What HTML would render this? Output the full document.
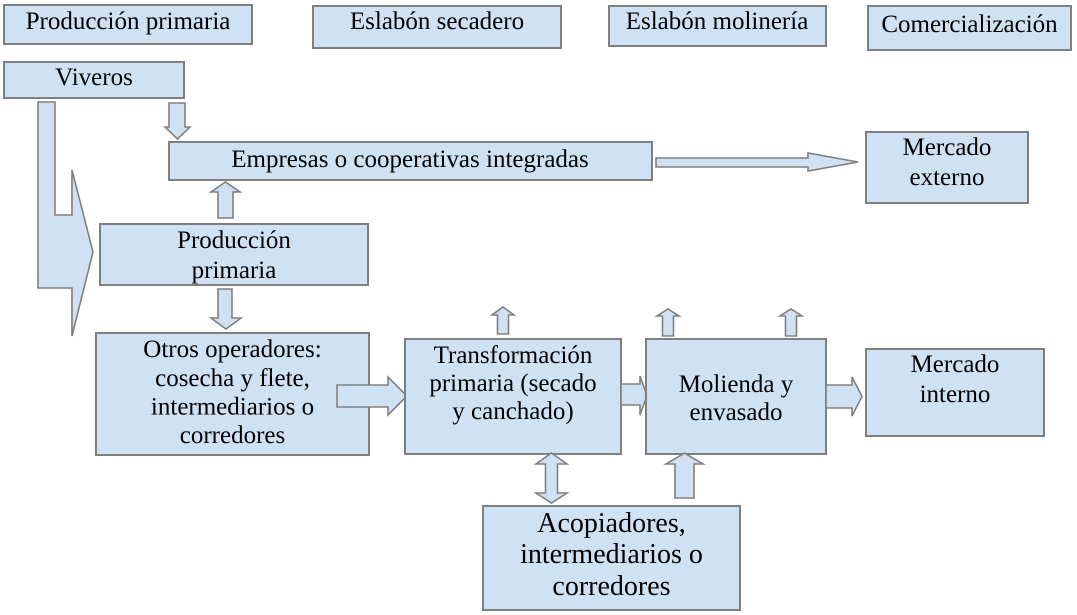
<!DOCTYPE html>
<html>
<head>
<meta charset="utf-8">
<style>
html,body{margin:0;padding:0;background:#fff;}
body{width:1077px;height:615px;overflow:hidden;font-family:"Liberation Serif","Times New Roman",Tinos,"DejaVu Serif","Noto Serif CJK SC",serif;}
svg{display:block;}
svg text{font-family:"Liberation Serif","Times New Roman",Tinos,"DejaVu Serif","Noto Serif CJK SC",serif;fill:#000;text-anchor:middle;}
.b{fill:#cfe2f3;stroke:#7f7f7f;stroke-width:2;}
.a{fill:#cfe2f3;stroke:#808080;stroke-width:1.6;stroke-linejoin:miter;}
</style>
</head>
<body>
<svg width="1077" height="615" viewBox="0 0 1077 615" xmlns="http://www.w3.org/2000/svg">
  <rect class="b" x="4" y="5" width="248" height="39"/>
  <rect class="b" x="313" y="6" width="248" height="42"/>
  <rect class="b" x="609" y="6" width="217" height="40"/>
  <rect class="b" x="868" y="6" width="203" height="44"/>
  <rect class="b" x="4" y="62" width="180" height="36"/>
  <polygon class="a" points="38,102 55,102 55,215 72,215 72,170 93,252 72,336 72,288 38,288"/>
  <polygon class="a" points="169,103 185,103 185,127 190,127 177.5,139 165,127 169,127"/>
  <rect class="b" x="169" y="142" width="483" height="38"/>
  <polygon class="a" points="656,158 808,158 808,153 858,162 808,171 808,167 656,167"/>
  <rect class="b" x="866" y="132" width="162" height="71"/>
  <polygon class="a" points="218,218 233,218 233,192 240,192 225.5,182 211,192 218,192"/>
  <rect class="b" x="100" y="224" width="268" height="61"/>
  <polygon class="a" points="218,289 232,289 232,318 241,318 226,329 211,318 218,318"/>
  <rect class="b" x="96" y="333" width="273" height="122"/>
  <polygon class="a" points="337,385 388,385 388,377 407,396 388,415 388,407 337,407"/>
  <polygon class="a" points="497.5,334 508.5,334 508.5,315 514,315 503,307 492,315 497.5,315"/>
  <polygon class="a" points="662.5,336 673.5,336 673.5,316 679,316 668,309 657,316 662.5,316"/>
  <polygon class="a" points="785.5,336 796.5,336 796.5,316 802,316 791,309 780,316 785.5,316"/>
  <rect class="b" x="405" y="339" width="216" height="115"/>
  <polygon class="a" points="621,384 640,384 640,376 647,395.5 640,415 640,405 621,405"/>
  <rect class="b" x="646" y="339" width="180" height="115"/>
  <polygon class="a" points="826,385 852,385 852,377 862,396.5 852,416 852,408 826,408"/>
  <rect class="b" x="866" y="349" width="178" height="87"/>
  <polygon class="a" points="551.5,453 567,464 557.5,464 557.5,493 567,493 551.5,503 536,493 545.5,493 545.5,464 536,464"/>
  <polygon class="a" points="675,498 694,498 694,464 703,464 684.5,453 666,464 675,464"/>
  <rect class="b" x="483" y="506" width="257" height="104"/>

  <g font-family="Liberation Serif, Times New Roman, Tinos, DejaVu Serif, serif" style="font-family:'Liberation Serif','Times New Roman',Tinos,'DejaVu Serif',serif" text-anchor="middle" fill="#000">
    <text x="128" y="29" font-size="25">Producción primaria</text>
    <text x="437" y="29" font-size="25">Eslabón secadero</text>
    <text x="717" y="29" font-size="25">Eslabón molinería</text>
    <text x="969.5" y="32" font-size="25">Comercialización</text>
    <text x="94" y="85" font-size="25">Viveros</text>
    <text x="410" y="167" font-size="25">Empresas o cooperativas integradas</text>
    <text x="947" y="155" font-size="25">Mercado</text>
    <text x="947" y="185" font-size="25">externo</text>
    <text x="234" y="248" font-size="25">Producción</text>
    <text x="234" y="278" font-size="25">primaria</text>
    <text x="232.5" y="357" font-size="25">Otros operadores:</text>
    <text x="232.5" y="386" font-size="25">cosecha y flete,</text>
    <text x="232.5" y="414.5" font-size="25">intermediarios o</text>
    <text x="232.5" y="443" font-size="25">corredores</text>
    <text x="513" y="363" font-size="25">Transformación</text>
    <text x="513" y="391" font-size="25">primaria (secado</text>
    <text x="513" y="419" font-size="25">y canchado)</text>
    <text x="736" y="392" font-size="25">Molienda y</text>
    <text x="736" y="420" font-size="25">envasado</text>
    <text x="955" y="372" font-size="25">Mercado</text>
    <text x="955" y="402" font-size="25">interno</text>
    <text x="611.5" y="532" font-size="28">Acopiadores,</text>
    <text x="611.5" y="563" font-size="28">intermediarios o</text>
    <text x="611.5" y="595" font-size="28">corredores</text>
  </g>
</svg>
</body>
</html>
